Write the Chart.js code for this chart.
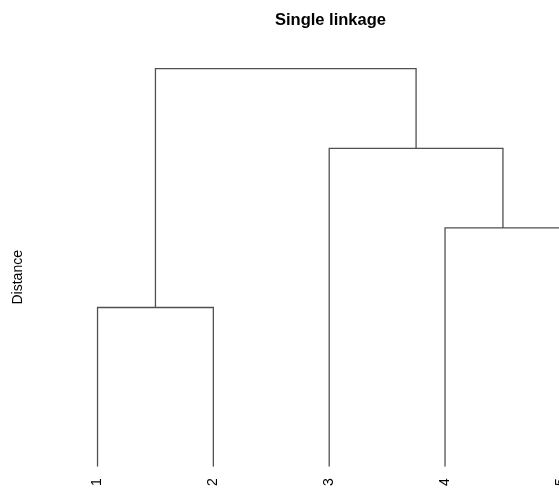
<!DOCTYPE html>
<html>
<head>
<meta charset="utf-8">
<script src="https://cdn.jsdelivr.net/npm/chart.js@4.4.1/dist/chart.umd.min.js"></script>
<style>
  html, body { margin: 0; padding: 0; background: #fff; overflow: hidden; }
  #wrap { width: 559px; height: 490px; overflow: hidden; }
</style>
</head>
<body>
<div id="wrap">
  <canvas id="myChart" width="661" height="501"></canvas>
</div>
<script>
// hclust style data: negative = leaf, positive = earlier merge
const leafLabels = ['1', '2', '3', '4', '5'];
const leafOrder = [1, 2, 3, 4, 5];
const mergeLeft = [-1, -4, -3, 1];
const mergeRight = [-2, -5, 2, 3];
const mergeHeight = [2, 3, 4, 5];

const nodes = [];
function nodePos(id) {
    if (id < 0) {
        return { x: leafOrder.indexOf(-id) + 1, y: 0 };
    }
    return nodes[id - 1];
}

const datasets = [];
for (var i = 0; i < mergeHeight.length; i++) {
    const a = nodePos(mergeLeft[i]);
    const b = nodePos(mergeRight[i]);
    const h = mergeHeight[i];
    nodes.push({ x: (a.x + b.x) / 2, y: h });
    datasets.push({
        data: [
            { x: a.x, y: a.y },
            { x: a.x, y: h },
            { x: b.x, y: h },
            { x: b.x, y: b.y }
        ],
        borderColor: 'rgb(80, 80, 80)',
        borderWidth: 1.3,
        pointRadius: 0,
        showLine: true,
        fill: false,
        tension: 0
    });
}

const fonte = "'Liberation Sans', Arial, Helvetica, sans-serif";

const config = {
    type: 'scatter',
    data: { datasets: datasets },
    options: {
        responsive: false,
        animation: false,
        layout: {
            padding: { left: 0, right: 0, top: 0, bottom: 3.5 }
        },
        plugins: {
            legend: { display: false },
            tooltip: { enabled: false },
            title: {
                display: true,
                text: 'Single linkage',
                color: '#000',
                font: { family: fonte, size: 16.5, weight: 'bold' },
                padding: { top: 11, bottom: 22 }
            }
        },
        scales: {
            x: {
                type: 'linear',
                min: 0.84,
                max: 5.16,
                afterBuildTicks: function (scale) {
                    scale.ticks = leafOrder.map(function (v, idx) { return { value: idx + 1 }; });
                },
                ticks: {
                    color: '#000',
                    font: { family: fonte, size: 14 },
                    minRotation: 90,
                    maxRotation: 90,
                    padding: 11.5,
                    autoSkip: false,
                    callback: function (value) {
                        return leafLabels[leafOrder[value - 1] - 1];
                    }
                },
                grid: { display: false, drawTicks: false },
                border: { display: false }
            },
            y: {
                type: 'linear',
                min: 0,
                max: 5.2,
                ticks: { display: false },
                grid: { display: false, drawTicks: false },
                border: { display: false },
                title: {
                    display: true,
                    text: 'Distance         ',
                    color: '#000',
                    font: { family: fonte, size: 14 },
                    padding: { top: 9.6, bottom: 52.6 }
                }
            },
            // margem direita vazia (parte cortada da figura)
            yDireita: {
                type: 'linear',
                position: 'right',
                display: true,
                ticks: { display: false },
                grid: { display: false, drawTicks: false },
                border: { display: false },
                title: {
                    display: true,
                    text: '',
                    font: { family: fonte, size: 12 },
                    padding: { top: 0, bottom: 67.2 }
                }
            }
        }
    }
};

const myChart = new Chart(document.getElementById('myChart'), config);
</script>
</body>
</html>
